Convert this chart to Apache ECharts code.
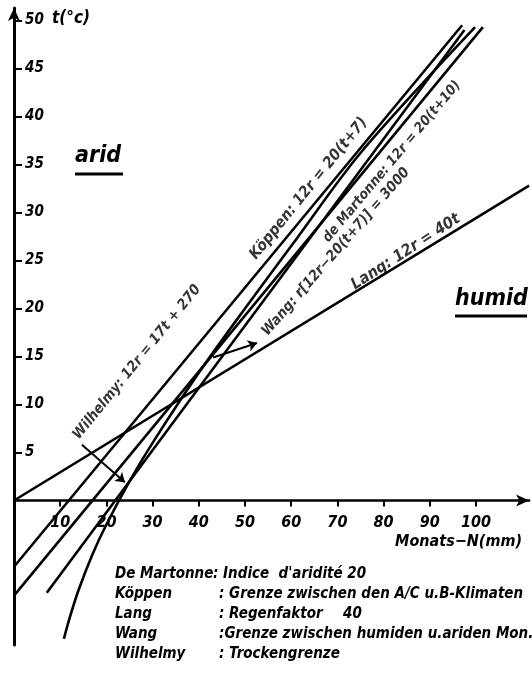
<!DOCTYPE html>
<html><head><meta charset="utf-8">
<script src="https://cdn.jsdelivr.net/npm/echarts@6/dist/echarts.min.js"></script>
<style>html,body{margin:0;padding:0;background:#fff}#c{width:532px;height:673px}</style>
</head><body><div id="c"></div>
<script>
// tick labels
const xTicks = [10,20,30,40,50,60,70,80,90,100];
const yTicks = [5,10,15,20,25,30,35,40,45,50];
// boundary lines: [Monats-N (mm), t (°C)]
const lang     = [[0,0],[111.5,32.8]];
const koeppen  = [[0,-6.9],[97,49.5]];
const martonne = [[0,-9.9],[101.5,49.3]];
const wilhelmy = [[7.1,-9.6],[97.5,49]];
const wang     = [[10.8,-14.4],[12,-12.3],[14,-9.3],[17,-5.6],[20,-2.5],[25,2],[30,6],[40,13.3],[50,20],[60,26.5],[75,36.2],[99.8,49.3]];
// annotation texts
const lineNames = ['Köppen: 12r = 20(t+7)','de Martonne: 12r = 20(t+10)','Wang: r[12r−20(t+7)] = 3000','Lang: 12r = 40t','Wilhelmy: 12r = 17t + 270'];
const legendNames = ['De Martonne','Köppen','Lang','Wang','Wilhelmy'];
const legendTexts = [': Indice  d\'aridité 20',': Grenze zwischen den A/C u.B-Klimaten',': Regenfaktor',':Grenze zwischen humiden u.ariden Mon.',': Trockengrenze'];

// annotation placement (data coords), rotation, font size
const notePos = [[63.8,32.5,51,15.5],[81.8,35.3,50,14],[69.7,25.9,49,14.5],[84.8,25.9,33,16],[26.6,14.4,51,14.5]];
const arrows = [[[14.7,5.8],[24,1.9]],[[43.1,14.9],[52.6,16.4]]];

const FONT = "'DejaVu Sans Condensed','DejaVu Sans',sans-serif";
const txt = {fontFamily:FONT,fontStyle:'italic',fontWeight:'bold',color:'#000'};

const chart = echarts.init(document.getElementById('c'),null,{renderer:'canvas'});
const lineSeries = (d)=>({type:'line',data:d,showSymbol:false,silent:true,animation:false,
  smooth:d.length>2?0.3:false,lineStyle:{color:'#000',width:2.6},z:3});

const legendGraphics = [];
legendNames.forEach((n,i)=>{
  const y = 576 + i*20;
  legendGraphics.push({type:'text',left:115,top:y-9,style:{text:n,font:'italic bold 15px '+FONT,fill:'#000'}});
  legendGraphics.push({type:'text',left:i===0?213:219,top:y-9,style:{text:legendTexts[i],font:'italic bold 15px '+FONT,fill:'#000'}});
});
legendGraphics.push({type:'text',left:343,top:576+40-9,style:{text:'40',font:'italic bold 15px '+FONT,fill:'#000'}});

chart.setOption({
  animation:false,
  backgroundColor:'#fff',
  grid:{left:14,right:2.9,top:8,bottom:28,containLabel:false},
  xAxis:{type:'value',min:0,max:111.5,position:'bottom',offset:-144.5,
    axisLine:{onZero:false,lineStyle:{color:'#000',width:2.5},symbol:['none','arrow'],symbolSize:[9,13]},
    axisTick:{show:true,inside:false,length:6,lineStyle:{color:'#000',width:2},customValues:xTicks},
    axisLabel:{show:true,margin:14,fontSize:16,...txt,customValues:xTicks},
    splitLine:{show:false}},
  yAxis:{type:'value',min:-15.05,max:51.3,
    axisLine:{show:true,onZero:false,lineStyle:{color:'#000',width:3},symbol:['none','arrow'],symbolSize:[9,13]},
    axisTick:{show:true,inside:true,length:8,lineStyle:{color:'#000',width:2},customValues:yTicks},
    axisLabel:{show:true,inside:true,margin:11,fontSize:15,...txt,customValues:yTicks},
    splitLine:{show:false}},
  series:[
    lineSeries(lang),lineSeries(koeppen),lineSeries(martonne),lineSeries(wilhelmy),lineSeries(wang),
    {type:'scatter',symbolSize:0,silent:true,z:5,
      data:notePos.map((p,i)=>({value:[p[0],p[1]],name:lineNames[i],
        label:{show:true,position:'inside',rotate:p[2],formatter:lineNames[i],...txt,fontSize:p[3]}}))},
    {type:'lines',coordinateSystem:'cartesian2d',silent:true,z:4,
      symbol:['none','arrow'],symbolSize:9,
      lineStyle:{color:'#000',width:2,opacity:1,curveness:0},
      data:arrows.map(a=>({coords:a}))}
  ],
  graphic:[
    {type:'text',left:52,top:10,style:{text:'t(°c)',font:'italic bold 17px '+FONT,fill:'#000'}},
    {type:'text',left:75,top:145,style:{text:'arid',font:'italic bold 23px '+FONT,fill:'#000'}},
    {type:'line',shape:{x1:75,y1:174,x2:123,y2:174},style:{stroke:'#000',lineWidth:3}},
    {type:'text',left:455,top:288,style:{text:'humid',font:'italic bold 23px '+FONT,fill:'#000'}},
    {type:'line',shape:{x1:455,y1:316,x2:527,y2:316},style:{stroke:'#000',lineWidth:3}},
    {type:'text',right:10,top:534,style:{text:'Monats−N(mm)',font:'italic bold 16px '+FONT,fill:'#000'}},
    ...legendGraphics
  ]
});
</script></body></html>
